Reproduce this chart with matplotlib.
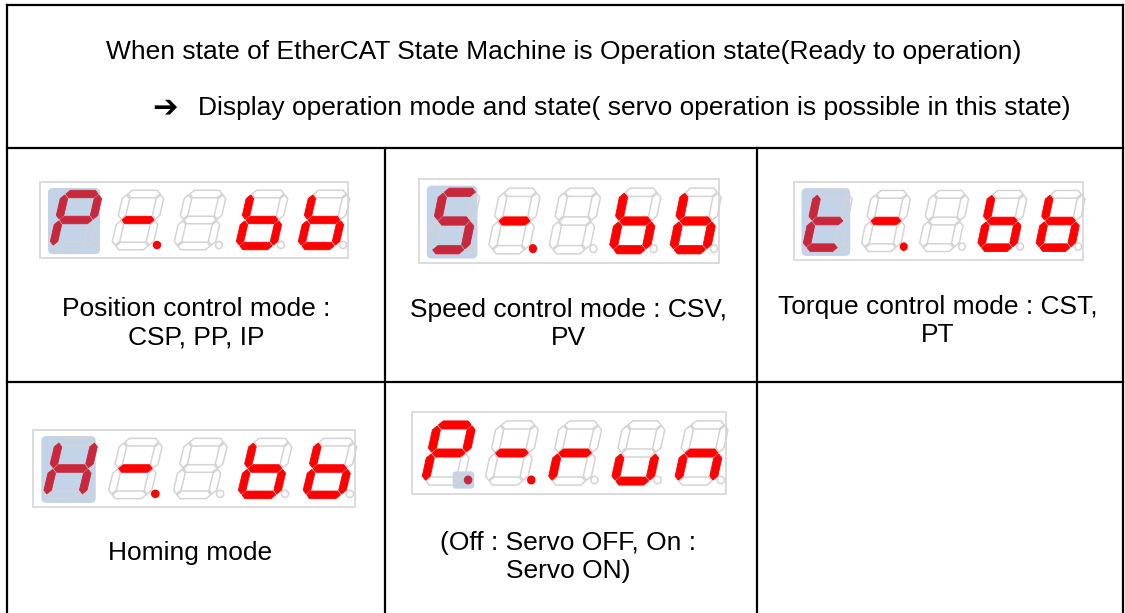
import numpy as np
import matplotlib.pyplot as plt
from matplotlib.patches import Polygon, Rectangle, FancyBboxPatch, Ellipse

plt.rcParams['font.family'] = ['Liberation Sans', 'DejaVu Sans']

# ---- content ----
header_lines = ['When state of EtherCAT State Machine is Operation state(Ready to operation)',
                'Display operation mode and state( servo operation is possible in this state)']
cell_texts = ['Position control mode :\nCSP, PP, IP',
              'Speed control mode : CSV,\nPV',
              'Torque control mode : CST,\nPT',
              'Homing mode',
              '(Off : Servo OFF, On :\nServo ON)']
display_chars = [['P', '-', ' ', 'b', 'b'],
                 ['S', '-', ' ', 'b', 'b'],
                 ['t', '-', ' ', 'b', 'b'],
                 ['H', '-', ' ', 'b', 'b'],
                 ['P', '-', 'r', 'u', 'n']]
display_dots = [[0, 1, 0, 0, 0],
                [0, 1, 0, 0, 0],
                [0, 1, 0, 0, 0],
                [0, 1, 0, 0, 0],
                [1, 1, 0, 0, 0]]
highlight = ['digit', 'digit', 'digit', 'digit', 'dot']

SEGS = {'P': 'abefg', 'S': 'acdfg', 't': 'defg', 'H': 'bcefg', 'b': 'cdefg',
        '-': 'g', 'r': 'eg', 'u': 'cde', 'n': 'ceg', ' ': ''}

# layout (pixels, y down)
box_pos = [(40, 182, 308, 76), (419, 179, 300, 84), (794, 182, 289, 78),
           (33, 430, 322, 77), (412, 412, 314, 82)]
text_pos = [(196, 323), (568, 324), (938, 321), (190, 553), (568, 557)]

RED = '#ff0000'
DARKRED = '#c8283c'
OFF = '#d4d4d4'
BLUE = '#c3d3e8'


def seg_poly(A, B, t, g):
    A = np.array(A, float); B = np.array(B, float)
    d = (B - A) / np.linalg.norm(B - A)
    n = np.array([-d[1], d[0]])
    return [A + g * d, A + (g + t / 2) * d + n * t / 2, B - (g + t / 2) * d + n * t / 2,
            B - g * d, B - (g + t / 2) * d - n * t / 2, A + (g + t / 2) * d - n * t / 2]


def draw_display(ax, x0, y0, bw, bh, chars, dots, hl):
    kx, ky = bw / 308.0, bh / 76.0
    ax.add_patch(Rectangle((x0, y0), bw, bh, fill=False, ec='#d9d9d9', lw=1.3))
    if hl == 'digit':
        ax.add_patch(FancyBboxPatch((x0 + 8 * kx, y0 + 6 * ky), 52 * kx, 66 * ky,
                                    boxstyle='round,pad=0,rounding_size=5', fc=BLUE, ec='none'))
    else:
        ax.add_patch(FancyBboxPatch((x0 + 40 * kx, y0 + 55 * ky), 21 * kx, 16 * ky,
                                    boxstyle='round,pad=0,rounding_size=3', fc=BLUE, ec='none'))
    h, w, s = 52 * ky, 34 * kx, 12 * kx
    t, g = 7.5 * ky, 0.9
    ends = {'a': ((0, 0), (w, 0)), 'b': ((w, 0), (w, h / 2)), 'c': ((w, h / 2), (w, h)),
            'd': ((0, h), (w, h)), 'e': ((0, h / 2), (0, h)), 'f': ((0, 0), (0, h / 2)),
            'g': ((0, h / 2), (w, h / 2))}
    for i, ch in enumerate(chars):
        dx = x0 + (13 + 62 * i) * kx
        dy = y0 + 12 * ky
        on_col = DARKRED if (hl == 'digit' and i == 0) else RED
        for sname, (A, B) in ends.items():
            pts = [(dx + p[0] + s * (1 - p[1] / h), dy + p[1]) for p in seg_poly(A, B, t, g)]
            if sname in SEGS[ch]:
                ax.add_patch(Polygon(pts, closed=True, fc=on_col, ec=on_col, lw=0.6))
            else:
                ax.add_patch(Polygon(pts, closed=True, fill=False, ec=OFF, lw=1.1))
        cx, cy = dx + w + 8 * kx, dy + h - 1 * ky
        if dots[i]:
            col = DARKRED if (hl == 'dot' and i == 0) else RED
            ax.add_patch(Ellipse((cx, cy), 7 * kx, 7 * ky, fc=col, ec=col))
        else:
            ax.add_patch(Ellipse((cx, cy), 7 * kx, 7 * ky, fill=False, ec=OFF, lw=1.1))


fig = plt.figure(figsize=(11.25, 6.13), dpi=100)
ax = fig.add_axes([0, 0, 1, 1])
ax.set_xlim(0, 1125)
ax.set_ylim(613, 0)
ax.axis('off')

# table grid
lw = 1.6
ax.plot([7, 7], [5, 613], color='black', lw=lw)
ax.plot([1123, 1123], [5, 613], color='black', lw=lw)
ax.plot([7, 1123], [5, 5], color='black', lw=lw)
ax.plot([7, 1123], [148, 148], color='black', lw=lw)
ax.plot([7, 1123], [382, 382], color='black', lw=lw)
ax.plot([385, 385], [148, 613], color='black', lw=lw)
ax.plot([757, 757], [148, 613], color='black', lw=lw)

fs = 19
# header
ax.text(564, 52, header_lines[0], ha='center', va='center', fontsize=fs)
ax.text(165, 108, '\u2794', ha='center', va='center', fontsize=22, fontweight='bold',
        family='DejaVu Sans')
ax.text(198, 108, header_lines[1], ha='left', va='center', fontsize=fs)

for i in range(5):
    x0, y0, bw, bh = box_pos[i]
    draw_display(ax, x0, y0, bw, bh, display_chars[i], display_dots[i], highlight[i])
    ax.text(text_pos[i][0], text_pos[i][1], cell_texts[i], ha='center', va='center',
            fontsize=fs, linespacing=1.25)

fig.savefig('out.png', dpi=100)
